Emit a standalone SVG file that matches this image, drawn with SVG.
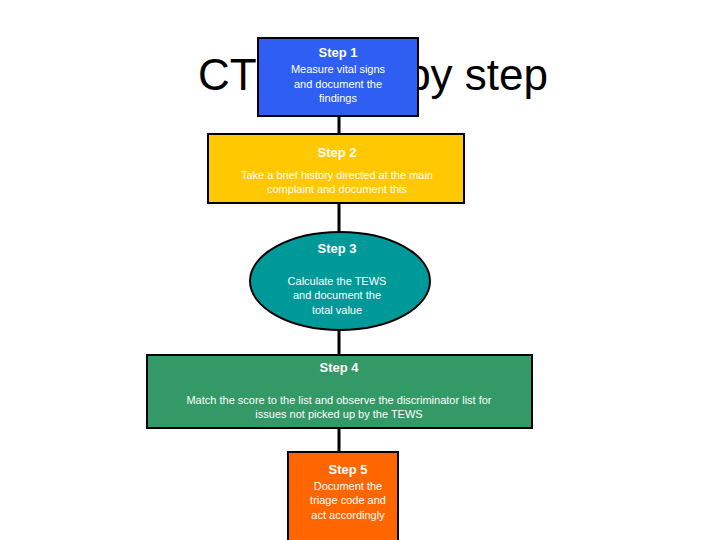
<svg xmlns="http://www.w3.org/2000/svg" width="720" height="540" viewBox="0 0 720 540">
<style>
text{font-family:"Liberation Sans",Arial,sans-serif;fill:#fff;text-anchor:middle}
.h{font-weight:bold;font-size:13px}
.b{font-size:11px}
.n{stroke:#000;stroke-width:2}
.t{fill:#000;font-size:44px}
</style>
<rect width="720" height="540" fill="#fff"/>
<text class="t" x="198" y="90" style="text-anchor:start">CT</text>
<text class="t" x="548" y="90" style="text-anchor:end">by step</text>
<g id="connectors" stroke="#000" stroke-width="3">
<line x1="339" y1="116" x2="339" y2="134"/>
<line x1="339" y1="203" x2="339" y2="232"/>
<line x1="339" y1="330" x2="339" y2="355"/>
<line x1="339" y1="428" x2="339" y2="452"/>
</g>
<g id="step1"><rect class="n" x="258" y="38" width="160" height="78" fill="#2f5ff2"/>
<text class="h" x="338" y="57">Step 1</text>
<text class="b" x="338" y="73">Measure vital signs</text>
<text class="b" x="338" y="88">and document the</text>
<text class="b" x="338" y="102">findings</text></g>
<g id="step2"><rect class="n" x="208" y="134" width="256" height="69" fill="#ffc800"/>
<text class="h" x="337" y="157">Step 2</text>
<text class="b" x="337" y="179">Take a brief history directed at the main</text>
<text class="b" x="337" y="193">complaint and document this</text></g>
<g id="step3"><ellipse class="n" cx="340" cy="281" rx="90" ry="49" fill="#009999"/>
<text class="h" x="337" y="253">Step 3</text>
<text class="b" x="337" y="285">Calculate the TEWS</text>
<text class="b" x="337" y="299">and document the</text>
<text class="b" x="337" y="314">total value</text></g>
<g id="step4"><rect class="n" x="147" y="355" width="385" height="73" fill="#339966"/>
<text class="h" x="339" y="372">Step 4</text>
<text class="b" x="339" y="404">Match the score to the list and observe the discriminator list for</text>
<text class="b" x="339" y="418">issues not picked up by the TEWS</text></g>
<g id="step5"><rect class="n" x="288" y="452" width="110" height="92" fill="#ff6600"/>
<text class="h" x="348" y="474">Step 5</text>
<text class="b" x="348" y="490">Document the</text>
<text class="b" x="348" y="504">triage code and</text>
<text class="b" x="348" y="519">act accordingly</text></g>
</svg>
